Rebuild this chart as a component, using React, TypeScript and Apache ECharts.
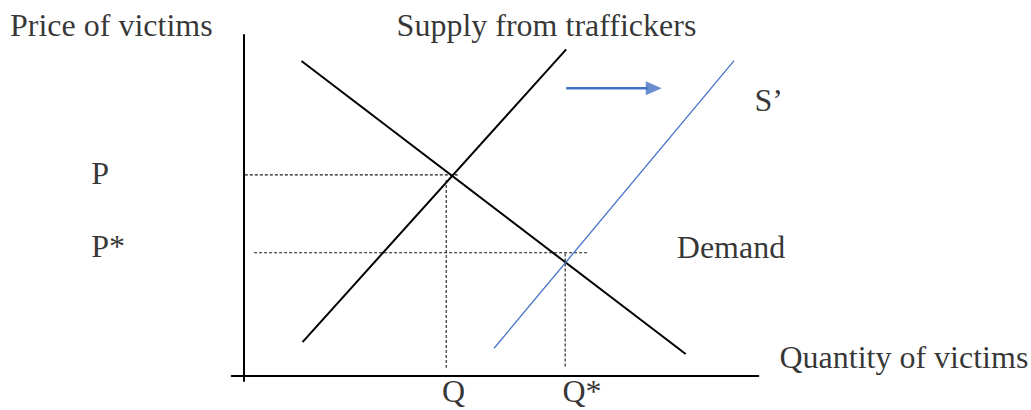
import React, { useEffect, useRef } from "react";
import * as echarts from "echarts";

// Axis extents (quantity on x, price on y, abstract units)
const quantityRange = [-0.225, 10];
const priceRange = [-0.14, 10];

// Demand curve endpoints
const demandQ = [1.13, 8.59];
const demandP = [9.24, 0.65];

// Original supply ("Supply from traffickers")
const supplyQ = [1.15, 6.27];
const supplyP = [1.0, 9.58];

// Shifted supply S'
const shiftedQ = [4.87, 9.53];
const shiftedP = [0.82, 9.25];

// Equilibria: [original, new]
const eqQ = [3.94, 6.25];
const eqP = [5.9, 3.62];

// Horizontal guide extents (q start, q end) for P and P*
const guidePStartQ = [0.03, 0.21];
const guidePEndQ = [4.17, 6.71];
// Vertical guide extents (p top, p bottom) for Q and Q*
const guideQTopP = [5.75, 3.6];
const guideQBottomP = [0.25, 0.25];

// Shift arrow
const arrowQ = [6.27, 7.85];
const arrowHeadQ = 7.97;
const arrowP = 8.44;

// Text labels
const labelTexts = [
  "Price of victims",
  "Supply from traffickers",
  "S\u2019",
  "P",
  "P*",
  "Demand",
  "Quantity of victims",
  "Q",
  "Q*",
];
const labelQ = [-4.52, 5.897, 9.936, -2.944, -2.944, 8.427, 10.421, 4.091, 6.207];
const labelP = [10.267, 10.264, 8.066, 5.933, 3.797, 3.765, 0.554, -0.46, -0.46];
const labelAlign = ["left", "center", "left", "left", "left", "left", "left", "center", "left"];

const BLUE = "#4472C4";
const FONT = "'Liberation Serif', 'Times New Roman', serif";

const seg = (q: number[], p: number[]) => q.map((x, i) => [x, p[i]]);

export default function App() {
  const ref = useRef<HTMLDivElement>(null);

  useEffect(() => {
    const chart = echarts.init(ref.current!, null, { renderer: "svg" });
    const axisCommon = {
      type: "value" as const,
      axisTick: { show: false },
      axisLabel: { show: false },
      splitLine: { show: false },
      axisLine: { show: true, onZero: true, lineStyle: { color: "#000", width: 2 } },
    };
    const dashed = { color: "#1a1a1a", width: 1.1, type: [3, 2] as number[] };
    const guideSeries: any[] = [];
    for (let i = 0; i < eqP.length; i++) {
      guideSeries.push({
        type: "line",
        data: [
          [guidePStartQ[i], eqP[i]],
          [guidePEndQ[i], eqP[i]],
        ],
        showSymbol: false,
        symbol: "none",
        lineStyle: dashed,
        silent: true,
        z: 2,
      });
      guideSeries.push({
        type: "line",
        data: [
          [eqQ[i], guideQTopP[i]],
          [eqQ[i], guideQBottomP[i]],
        ],
        showSymbol: false,
        symbol: "none",
        lineStyle: dashed,
        silent: true,
        z: 2,
      });
    }

    const option: any = {
      animation: false,
      backgroundColor: "#fff",
      grid: { left: 231.7, top: 35, width: 526.6, height: 346 },
      xAxis: { ...axisCommon, min: quantityRange[0], max: quantityRange[1] },
      yAxis: { ...axisCommon, min: priceRange[0], max: priceRange[1] },
      series: [
        ...guideSeries,
        {
          type: "line",
          data: seg(demandQ, demandP),
          symbol: "none",
          lineStyle: { color: "#000", width: 2 },
          silent: true,
          z: 3,
        },
        {
          type: "line",
          data: seg(supplyQ, supplyP),
          symbol: "none",
          lineStyle: { color: "#000", width: 2 },
          silent: true,
          z: 3,
        },
        {
          type: "line",
          data: seg(shiftedQ, shiftedP),
          symbol: "none",
          lineStyle: { color: BLUE, width: 1.3 },
          silent: true,
          z: 3,
        },
        {
          type: "line",
          data: arrowQ.map((q) => [q, arrowP]),
          symbol: "none",
          lineStyle: { color: BLUE, width: 2.7 },
          silent: true,
          z: 3,
        },
        {
          type: "scatter",
          data: [[arrowHeadQ, arrowP]],
          symbol: "triangle",
          symbolSize: [14, 16],
          symbolRotate: -90,
          itemStyle: { color: BLUE },
          silent: true,
          z: 4,
        },
        {
          type: "scatter",
          clip: false,
          silent: true,
          symbol: "circle",
          symbolSize: 1,
          itemStyle: { color: "transparent" },
          z: 5,
          data: labelTexts.map((t, i) => ({
            value: [labelQ[i], labelP[i]],
            label: {
              show: true,
              formatter: t,
              position: [0, 0],
              align: labelAlign[i],
              verticalAlign: "middle",
              fontFamily: FONT,
              fontSize: 32,
              lineHeight: 26,
              color: "#000",
            },
          })),
        },
      ],
    };
    chart.setOption(option);
    return () => chart.dispose();
  }, []);

  return (
    <div
      ref={ref}
      style={{ position: "fixed", left: 0, top: 0, width: 1031, height: 410, background: "#fff" }}
    />
  );
}
